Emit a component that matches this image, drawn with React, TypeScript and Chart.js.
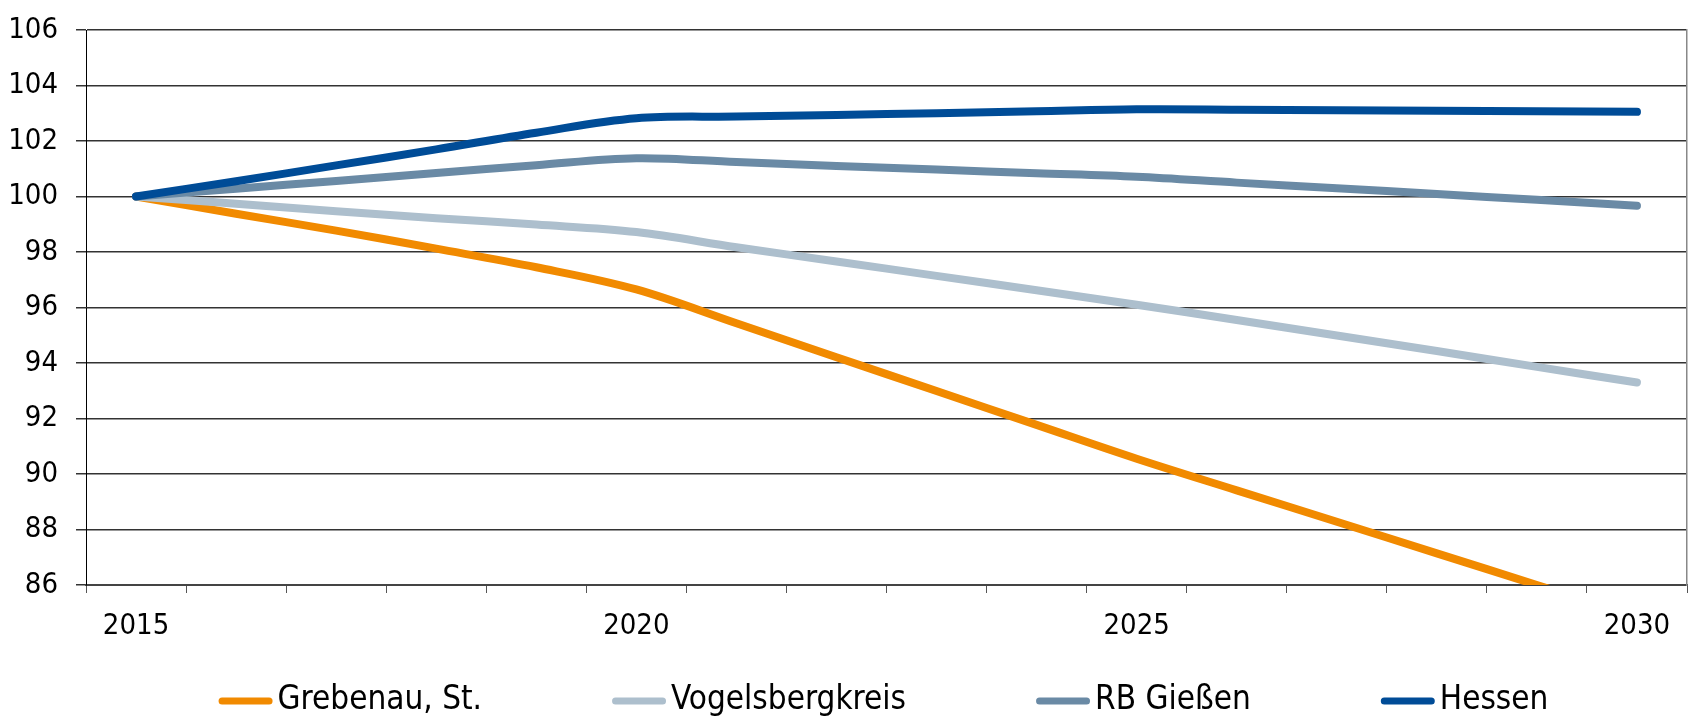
import React, { useEffect, useRef } from 'react';
import { Chart, registerables } from 'chart.js';

Chart.register(...registerables);

// ---- Data ----
const years = ['2015', '2016', '2017', '2018', '2019', '2020', '2021', '2022', '2023', '2024', '2025', '2026', '2027', '2028', '2029', '2030'];
const labeledYears = ['2015', '2020', '2025', '2030'];

const grebenau = [100, 99.38, 98.77, 98.12, 97.45, 96.65, 95.43, 94.21, 92.99, 91.77, 90.55, 89.41, 88.28, 87.14, 86.0, 84.86];
const vogelsbergkreis = [100, 99.74, 99.47, 99.22, 98.99, 98.72, 98.17, 97.66, 97.14, 96.62, 96.1, 95.55, 94.99, 94.43, 93.86, 93.3];
const rbGiessen = [100, 100.28, 100.56, 100.85, 101.13, 101.38, 101.24, 101.1, 100.97, 100.84, 100.71, 100.5, 100.3, 100.09, 99.88, 99.67];
const hessen = [100, 100.55, 101.12, 101.7, 102.3, 102.82, 102.88, 102.94, 103.0, 103.07, 103.14, 103.13, 103.11, 103.09, 103.07, 103.05];

const seriesNames = ['Grebenau, St.', 'Vogelsbergkreis', 'RB Gießen', 'Hessen'];
const seriesColors = ['#F18A00', '#ADBFCD', '#6A8AA5', '#004C97'];
const seriesValues = [grebenau, vogelsbergkreis, rbGiessen, hessen];

const yMin = 86;
const yMax = 106;
const yStep = 2;

const FONT = "'Liberation Sans Narrow', 'Arial Narrow', 'DejaVu Sans Condensed', sans-serif";

const customLegend = {
  id: 'customLegend',
  afterDraw(chart: any) {
    const ctx = chart.ctx as CanvasRenderingContext2D;
    const fontSize = 33;
    const swatch = 54;
    const gap = 5;
    const spacing = 130;
    ctx.save();
    ctx.font = `${fontSize}px ${FONT}`;
    const items = chart.data.datasets.map((ds: any) => ({
      label: ds.label as string,
      color: ds.borderColor as string,
      tw: ctx.measureText(ds.label).width,
    }));
    const total = items.reduce((s: number, it: any) => s + swatch + gap + it.tw, 0) + spacing * (items.length - 1);
    const center = (chart.chartArea.left + chart.chartArea.right) / 2 - 3;
    let x = center - total / 2;
    const y = chart.height - 18;
    ctx.textBaseline = 'middle';
    ctx.textAlign = 'left';
    for (const it of items) {
      ctx.strokeStyle = it.color;
      ctx.lineWidth = 7;
      ctx.lineCap = 'round';
      ctx.beginPath();
      ctx.moveTo(x + 3.5, y + 1);
      ctx.lineTo(x + swatch - 3.5, y + 1);
      ctx.stroke();
      ctx.fillStyle = '#000';
      ctx.fillText(it.label, x + swatch + gap, y);
      x += swatch + gap + it.tw + spacing;
    }
    ctx.restore();
  },
};

export default function App() {
  const canvasRef = useRef<HTMLCanvasElement | null>(null);

  useEffect(() => {
    if (!canvasRef.current) return;
    const chart = new Chart(canvasRef.current, {
      type: 'line',
      data: {
        labels: years,
        datasets: seriesValues.map((vals, i) => ({
          label: seriesNames[i],
          data: vals,
          borderColor: seriesColors[i],
          backgroundColor: seriesColors[i],
          borderWidth: 8,
          pointRadius: 0,
          pointHoverRadius: 0,
          tension: 0.35,
          borderCapStyle: 'round' as const,
          borderJoinStyle: 'round' as const,
          fill: false,
          order: seriesValues.length - 1 - i,
        })),
      },
      options: {
        responsive: false,
        animation: false,
        layout: { padding: { left: 0, right: 6, top: 30, bottom: 73 } },
        plugins: {
          legend: { display: false },
          tooltip: { enabled: false },
        },
        scales: {
          x: {
            type: 'category',
            offset: true,
            grid: {
              offset: true,
              drawOnChartArea: false,
              drawTicks: true,
              tickLength: 8,
              color: '#555',
              lineWidth: 1,
            },
            border: { display: true, color: '#444', width: 2 },
            ticks: {
              autoSkip: false,
              maxRotation: 0,
              minRotation: 0,
              padding: 16,
              color: '#000',
              font: { family: FONT, size: 29 },
              callback: (_v: any, i: number) => (labeledYears.includes(years[i]) ? years[i] : ''),
            },
            afterFit: (s: any) => {
              s.height = 60;
            },
          },
          y: {
            min: yMin,
            max: yMax,
            ticks: {
              stepSize: yStep,
              padding: 18,
              color: '#000',
              font: { family: FONT, size: 29 },
            },
            grid: { color: '#333', lineWidth: 1.5, tickLength: 10 },
            border: { display: true, color: '#000', width: 1 },
            afterFit: (s: any) => {
              s.width = 86;
              s.paddingTop = 0;
              s.paddingBottom = 0;
            },
          },
          yr: {
            position: 'right',
            min: yMin,
            max: yMax,
            ticks: { display: false },
            grid: { display: false, drawTicks: false },
            border: { display: true, color: '#888', width: 1.5 },
            afterFit: (s: any) => {
              s.width = 0;
              s.paddingTop = 0;
              s.paddingBottom = 0;
            },
          },
        },
      } as any,
      plugins: [customLegend],
    });
    return () => chart.destroy();
  }, []);

  return (
    <div style={{ position: 'absolute', left: 0, top: 0, width: 1693, height: 718, background: '#fff' }}>
      <canvas ref={canvasRef} width={1693} height={718} style={{ width: 1693, height: 718, display: 'block' }} />
    </div>
  );
}
